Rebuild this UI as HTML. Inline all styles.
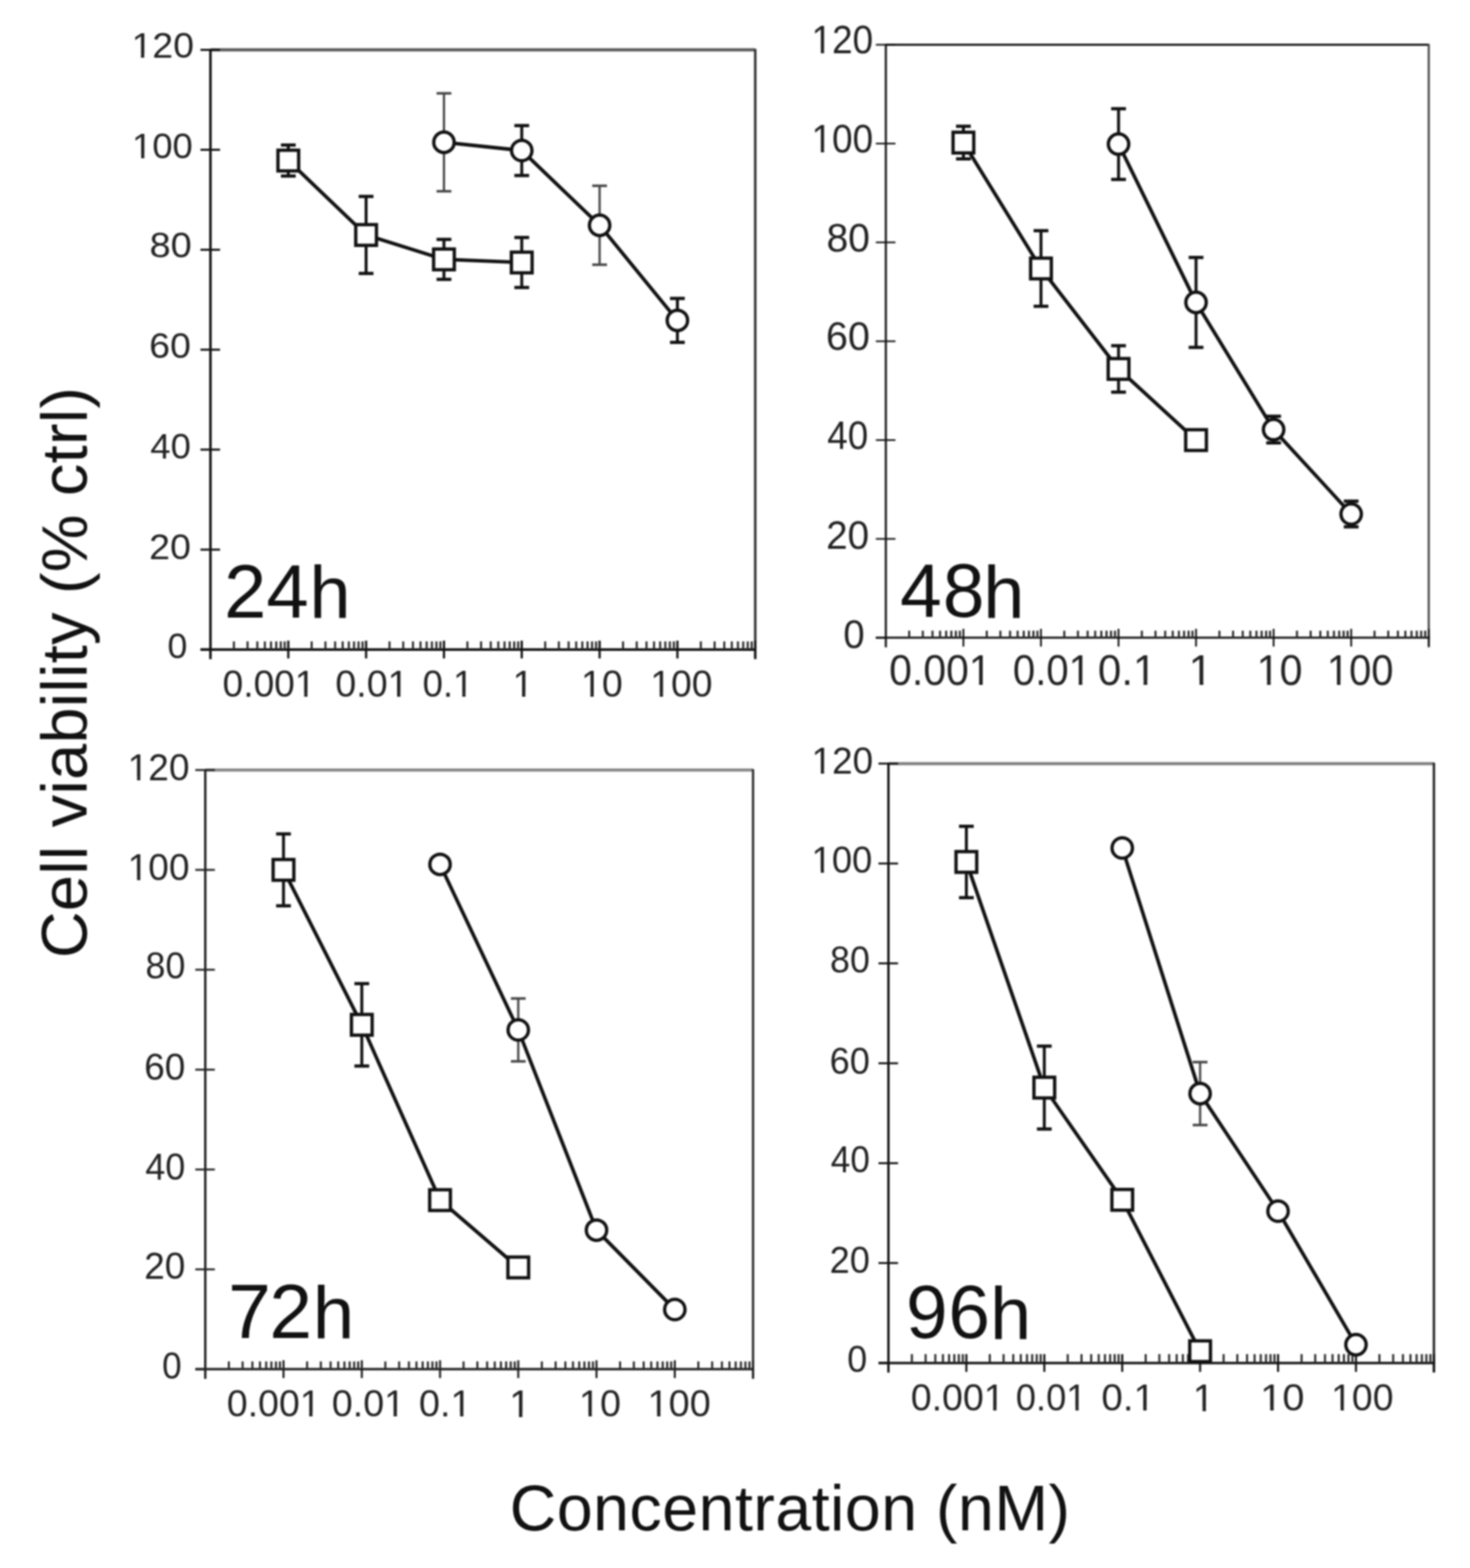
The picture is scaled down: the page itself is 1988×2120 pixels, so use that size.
<!DOCTYPE html>
<html><head><meta charset="utf-8"><title>Cell viability vs concentration</title>
<style>html,body{margin:0;padding:0;background:#fff;}body{width:1988px;height:2120px;overflow:hidden;}svg{display:block;filter:blur(0.8px);}</style>
</head><body>
<svg width="1988" height="2120" viewBox="0 0 1988 2120" font-family='"Liberation Sans", Arial, sans-serif'><defs><clipPath id="c0" clipPathUnits="userSpaceOnUse"><rect x="0.00" y="-97.95" width="27.24" height="93.29"/><rect x="12.32" y="-5.66" width="4.33" height="35.04"/><rect x="27.24" y="-97.95" width="27.24" height="146.92"/><rect x="54.47" y="-97.95" width="27.24" height="146.92"/></clipPath><clipPath id="c1" clipPathUnits="userSpaceOnUse"><rect x="0.00" y="-97.95" width="27.24" height="93.29"/><rect x="12.32" y="-5.66" width="4.33" height="35.04"/><rect x="27.24" y="-97.95" width="27.24" height="146.92"/><rect x="54.47" y="-97.95" width="27.24" height="146.92"/></clipPath><clipPath id="c2" clipPathUnits="userSpaceOnUse"><rect x="0.00" y="-98.87" width="27.49" height="148.31"/><rect x="27.49" y="-98.87" width="13.74" height="148.31"/><rect x="41.23" y="-98.87" width="27.49" height="148.31"/><rect x="68.72" y="-98.87" width="27.49" height="148.31"/><rect x="96.22" y="-98.87" width="27.49" height="94.18"/><rect x="108.65" y="-5.69" width="4.37" height="35.36"/></clipPath><clipPath id="c3" clipPathUnits="userSpaceOnUse"><rect x="0.00" y="-98.87" width="27.49" height="148.31"/><rect x="27.49" y="-98.87" width="13.74" height="148.31"/><rect x="41.23" y="-98.87" width="27.49" height="148.31"/><rect x="68.72" y="-98.87" width="27.49" height="94.18"/><rect x="81.16" y="-5.69" width="4.37" height="35.36"/></clipPath><clipPath id="c4" clipPathUnits="userSpaceOnUse"><rect x="0.00" y="-98.87" width="27.49" height="148.31"/><rect x="27.49" y="-98.87" width="13.74" height="148.31"/><rect x="41.23" y="-98.87" width="27.49" height="94.18"/><rect x="53.66" y="-5.69" width="4.37" height="35.36"/></clipPath><clipPath id="c5" clipPathUnits="userSpaceOnUse"><rect x="0.00" y="-101.74" width="28.29" height="96.92"/><rect x="12.79" y="-5.84" width="4.50" height="36.36"/></clipPath><clipPath id="c6" clipPathUnits="userSpaceOnUse"><rect x="0.00" y="-98.87" width="27.49" height="94.18"/><rect x="12.43" y="-5.69" width="4.37" height="35.36"/><rect x="27.49" y="-98.87" width="27.49" height="148.31"/></clipPath><clipPath id="c7" clipPathUnits="userSpaceOnUse"><rect x="0.00" y="-98.87" width="27.49" height="94.18"/><rect x="12.43" y="-5.69" width="4.37" height="35.36"/><rect x="27.49" y="-98.87" width="27.49" height="148.31"/><rect x="54.99" y="-98.87" width="27.49" height="148.31"/></clipPath><clipPath id="c8" clipPathUnits="userSpaceOnUse"><rect x="0.00" y="-105.51" width="29.34" height="100.52"/><rect x="13.27" y="-6.05" width="4.66" height="37.71"/><rect x="29.34" y="-105.51" width="29.34" height="158.27"/><rect x="58.68" y="-105.51" width="29.34" height="158.27"/></clipPath><clipPath id="c9" clipPathUnits="userSpaceOnUse"><rect x="0.00" y="-105.51" width="29.34" height="100.52"/><rect x="13.27" y="-6.05" width="4.66" height="37.71"/><rect x="29.34" y="-105.51" width="29.34" height="158.27"/><rect x="58.68" y="-105.51" width="29.34" height="158.27"/></clipPath><clipPath id="c10" clipPathUnits="userSpaceOnUse"><rect x="0.00" y="-113.24" width="31.49" height="169.86"/><rect x="31.49" y="-113.24" width="15.73" height="169.86"/><rect x="47.22" y="-113.24" width="31.49" height="169.86"/><rect x="78.71" y="-113.24" width="31.49" height="169.86"/><rect x="110.20" y="-113.24" width="31.49" height="107.88"/><rect x="124.44" y="-6.49" width="5.00" height="40.47"/></clipPath><clipPath id="c11" clipPathUnits="userSpaceOnUse"><rect x="0.00" y="-113.24" width="31.49" height="169.86"/><rect x="31.49" y="-113.24" width="15.73" height="169.86"/><rect x="47.22" y="-113.24" width="31.49" height="169.86"/><rect x="78.71" y="-113.24" width="31.49" height="107.88"/><rect x="92.95" y="-6.49" width="5.00" height="40.47"/></clipPath><clipPath id="c12" clipPathUnits="userSpaceOnUse"><rect x="0.00" y="-113.24" width="31.49" height="169.86"/><rect x="31.49" y="-113.24" width="15.73" height="169.86"/><rect x="47.22" y="-113.24" width="31.49" height="107.88"/><rect x="61.46" y="-6.49" width="5.00" height="40.47"/></clipPath><clipPath id="c13" clipPathUnits="userSpaceOnUse"><rect x="0.00" y="-116.52" width="32.40" height="111.00"/><rect x="14.65" y="-6.68" width="5.15" height="41.64"/></clipPath><clipPath id="c14" clipPathUnits="userSpaceOnUse"><rect x="0.00" y="-113.24" width="31.49" height="107.88"/><rect x="14.24" y="-6.49" width="5.00" height="40.47"/><rect x="31.49" y="-113.24" width="31.49" height="169.86"/></clipPath><clipPath id="c15" clipPathUnits="userSpaceOnUse"><rect x="0.00" y="-113.24" width="31.49" height="107.88"/><rect x="14.24" y="-6.49" width="5.00" height="40.47"/><rect x="31.49" y="-113.24" width="31.49" height="169.86"/><rect x="62.98" y="-113.24" width="31.49" height="169.86"/></clipPath><clipPath id="c16" clipPathUnits="userSpaceOnUse"><rect x="0.00" y="-98.31" width="27.34" height="93.64"/><rect x="12.36" y="-5.67" width="4.34" height="35.17"/><rect x="27.34" y="-98.31" width="27.34" height="147.46"/><rect x="54.68" y="-98.31" width="27.34" height="147.46"/></clipPath><clipPath id="c17" clipPathUnits="userSpaceOnUse"><rect x="0.00" y="-98.31" width="27.34" height="93.64"/><rect x="12.36" y="-5.67" width="4.34" height="35.17"/><rect x="27.34" y="-98.31" width="27.34" height="147.46"/><rect x="54.68" y="-98.31" width="27.34" height="147.46"/></clipPath><clipPath id="c18" clipPathUnits="userSpaceOnUse"><rect x="0.00" y="-101.69" width="28.28" height="152.54"/><rect x="28.28" y="-101.69" width="14.13" height="152.54"/><rect x="42.40" y="-101.69" width="28.28" height="152.54"/><rect x="70.68" y="-101.69" width="28.28" height="152.54"/><rect x="98.96" y="-101.69" width="28.28" height="96.87"/><rect x="111.74" y="-5.83" width="4.49" height="36.34"/></clipPath><clipPath id="c19" clipPathUnits="userSpaceOnUse"><rect x="0.00" y="-101.69" width="28.28" height="152.54"/><rect x="28.28" y="-101.69" width="14.13" height="152.54"/><rect x="42.40" y="-101.69" width="28.28" height="152.54"/><rect x="70.68" y="-101.69" width="28.28" height="96.87"/><rect x="83.47" y="-5.83" width="4.49" height="36.34"/></clipPath><clipPath id="c20" clipPathUnits="userSpaceOnUse"><rect x="0.00" y="-101.69" width="28.28" height="152.54"/><rect x="28.28" y="-101.69" width="14.13" height="152.54"/><rect x="42.40" y="-101.69" width="28.28" height="96.87"/><rect x="55.19" y="-5.83" width="4.49" height="36.34"/></clipPath><clipPath id="c21" clipPathUnits="userSpaceOnUse"><rect x="0.00" y="-104.64" width="29.10" height="99.68"/><rect x="13.16" y="-6.00" width="4.62" height="37.39"/></clipPath><clipPath id="c22" clipPathUnits="userSpaceOnUse"><rect x="0.00" y="-101.69" width="28.28" height="96.87"/><rect x="12.79" y="-5.83" width="4.49" height="36.34"/><rect x="28.28" y="-101.69" width="28.28" height="152.54"/></clipPath><clipPath id="c23" clipPathUnits="userSpaceOnUse"><rect x="0.00" y="-101.69" width="28.28" height="96.87"/><rect x="12.79" y="-5.83" width="4.49" height="36.34"/><rect x="28.28" y="-101.69" width="28.28" height="152.54"/><rect x="56.56" y="-101.69" width="28.28" height="152.54"/></clipPath><clipPath id="c24" clipPathUnits="userSpaceOnUse"><rect x="0.00" y="-98.59" width="27.42" height="93.91"/><rect x="12.40" y="-5.68" width="4.36" height="35.26"/><rect x="27.42" y="-98.59" width="27.42" height="147.89"/><rect x="54.83" y="-98.59" width="27.42" height="147.89"/></clipPath><clipPath id="c25" clipPathUnits="userSpaceOnUse"><rect x="0.00" y="-98.59" width="27.42" height="93.91"/><rect x="12.40" y="-5.68" width="4.36" height="35.26"/><rect x="27.42" y="-98.59" width="27.42" height="147.89"/><rect x="54.83" y="-98.59" width="27.42" height="147.89"/></clipPath><clipPath id="c26" clipPathUnits="userSpaceOnUse"><rect x="0.00" y="-100.56" width="27.96" height="150.85"/><rect x="27.96" y="-100.56" width="13.97" height="150.85"/><rect x="41.93" y="-100.56" width="27.96" height="150.85"/><rect x="69.90" y="-100.56" width="27.96" height="150.85"/><rect x="97.86" y="-100.56" width="27.96" height="95.80"/><rect x="110.51" y="-5.77" width="4.44" height="35.94"/></clipPath><clipPath id="c27" clipPathUnits="userSpaceOnUse"><rect x="0.00" y="-100.56" width="27.96" height="150.85"/><rect x="27.96" y="-100.56" width="13.97" height="150.85"/><rect x="41.93" y="-100.56" width="27.96" height="150.85"/><rect x="69.90" y="-100.56" width="27.96" height="95.80"/><rect x="82.54" y="-5.77" width="4.44" height="35.94"/></clipPath><clipPath id="c28" clipPathUnits="userSpaceOnUse"><rect x="0.00" y="-100.56" width="27.96" height="150.85"/><rect x="27.96" y="-100.56" width="13.97" height="150.85"/><rect x="41.93" y="-100.56" width="27.96" height="95.80"/><rect x="54.58" y="-5.77" width="4.44" height="35.94"/></clipPath><clipPath id="c29" clipPathUnits="userSpaceOnUse"><rect x="0.00" y="-103.48" width="28.77" height="98.58"/><rect x="13.01" y="-5.93" width="4.57" height="36.98"/></clipPath><clipPath id="c30" clipPathUnits="userSpaceOnUse"><rect x="0.00" y="-100.56" width="27.96" height="95.80"/><rect x="12.64" y="-5.77" width="4.44" height="35.94"/><rect x="27.96" y="-100.56" width="27.96" height="150.85"/></clipPath><clipPath id="c31" clipPathUnits="userSpaceOnUse"><rect x="0.00" y="-100.56" width="27.96" height="95.80"/><rect x="12.64" y="-5.77" width="4.44" height="35.94"/><rect x="27.96" y="-100.56" width="27.96" height="150.85"/><rect x="55.93" y="-100.56" width="27.96" height="150.85"/></clipPath></defs>
<line x1="284.6" y1="67.4" x2="1021.4" y2="67.4" stroke="#5a5a5a" stroke-width="4.2"/>
<line x1="1021.4" y1="66.2" x2="1021.4" y2="891.2" stroke="#333" stroke-width="3.4"/>
<line x1="284.6" y1="66.4" x2="284.6" y2="891.2" stroke="#111" stroke-width="3.4"/>
<line x1="271.1" y1="878.2" x2="1022.9" y2="878.2" stroke="#111" stroke-width="3.4"/>
<line x1="271.1" y1="878.2" x2="284.6" y2="878.2" stroke="#111" stroke-width="2.8"/>
<line x1="271.1" y1="743.1" x2="297.6" y2="743.1" stroke="#111" stroke-width="2.8"/>
<line x1="271.1" y1="607.9" x2="297.6" y2="607.9" stroke="#111" stroke-width="2.8"/>
<line x1="271.1" y1="472.8" x2="297.6" y2="472.8" stroke="#111" stroke-width="2.8"/>
<line x1="271.1" y1="337.7" x2="297.6" y2="337.7" stroke="#111" stroke-width="2.8"/>
<line x1="271.1" y1="202.5" x2="297.6" y2="202.5" stroke="#111" stroke-width="2.8"/>
<line x1="271.1" y1="67.4" x2="297.6" y2="67.4" stroke="#111" stroke-width="2.8"/>
<line x1="316.3" y1="867.2" x2="316.3" y2="878.2" stroke="#2a2a2a" stroke-width="2.8"/>
<line x1="334.8" y1="867.2" x2="334.8" y2="878.2" stroke="#2a2a2a" stroke-width="2.8"/>
<line x1="348.0" y1="867.2" x2="348.0" y2="878.2" stroke="#2a2a2a" stroke-width="2.8"/>
<line x1="358.2" y1="867.2" x2="358.2" y2="878.2" stroke="#2a2a2a" stroke-width="2.8"/>
<line x1="366.5" y1="867.2" x2="366.5" y2="878.2" stroke="#2a2a2a" stroke-width="2.8"/>
<line x1="373.6" y1="867.2" x2="373.6" y2="878.2" stroke="#2a2a2a" stroke-width="2.8"/>
<line x1="379.7" y1="867.2" x2="379.7" y2="878.2" stroke="#2a2a2a" stroke-width="2.8"/>
<line x1="385.0" y1="867.2" x2="385.0" y2="878.2" stroke="#2a2a2a" stroke-width="2.8"/>
<line x1="389.9" y1="866.2" x2="389.9" y2="890.2" stroke="#111" stroke-width="3.0"/>
<line x1="421.5" y1="867.2" x2="421.5" y2="878.2" stroke="#2a2a2a" stroke-width="2.8"/>
<line x1="440.1" y1="867.2" x2="440.1" y2="878.2" stroke="#2a2a2a" stroke-width="2.8"/>
<line x1="453.2" y1="867.2" x2="453.2" y2="878.2" stroke="#2a2a2a" stroke-width="2.8"/>
<line x1="463.4" y1="867.2" x2="463.4" y2="878.2" stroke="#2a2a2a" stroke-width="2.8"/>
<line x1="471.8" y1="867.2" x2="471.8" y2="878.2" stroke="#2a2a2a" stroke-width="2.8"/>
<line x1="478.8" y1="867.2" x2="478.8" y2="878.2" stroke="#2a2a2a" stroke-width="2.8"/>
<line x1="484.9" y1="867.2" x2="484.9" y2="878.2" stroke="#2a2a2a" stroke-width="2.8"/>
<line x1="490.3" y1="867.2" x2="490.3" y2="878.2" stroke="#2a2a2a" stroke-width="2.8"/>
<line x1="495.1" y1="866.2" x2="495.1" y2="890.2" stroke="#111" stroke-width="3.0"/>
<line x1="526.8" y1="867.2" x2="526.8" y2="878.2" stroke="#2a2a2a" stroke-width="2.8"/>
<line x1="545.3" y1="867.2" x2="545.3" y2="878.2" stroke="#2a2a2a" stroke-width="2.8"/>
<line x1="558.5" y1="867.2" x2="558.5" y2="878.2" stroke="#2a2a2a" stroke-width="2.8"/>
<line x1="568.7" y1="867.2" x2="568.7" y2="878.2" stroke="#2a2a2a" stroke-width="2.8"/>
<line x1="577.0" y1="867.2" x2="577.0" y2="878.2" stroke="#2a2a2a" stroke-width="2.8"/>
<line x1="584.1" y1="867.2" x2="584.1" y2="878.2" stroke="#2a2a2a" stroke-width="2.8"/>
<line x1="590.2" y1="867.2" x2="590.2" y2="878.2" stroke="#2a2a2a" stroke-width="2.8"/>
<line x1="595.6" y1="867.2" x2="595.6" y2="878.2" stroke="#2a2a2a" stroke-width="2.8"/>
<line x1="600.4" y1="866.2" x2="600.4" y2="890.2" stroke="#111" stroke-width="3.0"/>
<line x1="632.1" y1="867.2" x2="632.1" y2="878.2" stroke="#2a2a2a" stroke-width="2.8"/>
<line x1="650.6" y1="867.2" x2="650.6" y2="878.2" stroke="#2a2a2a" stroke-width="2.8"/>
<line x1="663.7" y1="867.2" x2="663.7" y2="878.2" stroke="#2a2a2a" stroke-width="2.8"/>
<line x1="673.9" y1="867.2" x2="673.9" y2="878.2" stroke="#2a2a2a" stroke-width="2.8"/>
<line x1="682.3" y1="867.2" x2="682.3" y2="878.2" stroke="#2a2a2a" stroke-width="2.8"/>
<line x1="689.3" y1="867.2" x2="689.3" y2="878.2" stroke="#2a2a2a" stroke-width="2.8"/>
<line x1="695.4" y1="867.2" x2="695.4" y2="878.2" stroke="#2a2a2a" stroke-width="2.8"/>
<line x1="700.8" y1="867.2" x2="700.8" y2="878.2" stroke="#2a2a2a" stroke-width="2.8"/>
<line x1="705.6" y1="866.2" x2="705.6" y2="890.2" stroke="#111" stroke-width="3.0"/>
<line x1="737.3" y1="867.2" x2="737.3" y2="878.2" stroke="#2a2a2a" stroke-width="2.8"/>
<line x1="755.8" y1="867.2" x2="755.8" y2="878.2" stroke="#2a2a2a" stroke-width="2.8"/>
<line x1="769.0" y1="867.2" x2="769.0" y2="878.2" stroke="#2a2a2a" stroke-width="2.8"/>
<line x1="779.2" y1="867.2" x2="779.2" y2="878.2" stroke="#2a2a2a" stroke-width="2.8"/>
<line x1="787.5" y1="867.2" x2="787.5" y2="878.2" stroke="#2a2a2a" stroke-width="2.8"/>
<line x1="794.6" y1="867.2" x2="794.6" y2="878.2" stroke="#2a2a2a" stroke-width="2.8"/>
<line x1="800.7" y1="867.2" x2="800.7" y2="878.2" stroke="#2a2a2a" stroke-width="2.8"/>
<line x1="806.1" y1="867.2" x2="806.1" y2="878.2" stroke="#2a2a2a" stroke-width="2.8"/>
<line x1="810.9" y1="866.2" x2="810.9" y2="890.2" stroke="#111" stroke-width="3.0"/>
<line x1="842.6" y1="867.2" x2="842.6" y2="878.2" stroke="#2a2a2a" stroke-width="2.8"/>
<line x1="861.1" y1="867.2" x2="861.1" y2="878.2" stroke="#2a2a2a" stroke-width="2.8"/>
<line x1="874.3" y1="867.2" x2="874.3" y2="878.2" stroke="#2a2a2a" stroke-width="2.8"/>
<line x1="884.5" y1="867.2" x2="884.5" y2="878.2" stroke="#2a2a2a" stroke-width="2.8"/>
<line x1="892.8" y1="867.2" x2="892.8" y2="878.2" stroke="#2a2a2a" stroke-width="2.8"/>
<line x1="899.8" y1="867.2" x2="899.8" y2="878.2" stroke="#2a2a2a" stroke-width="2.8"/>
<line x1="905.9" y1="867.2" x2="905.9" y2="878.2" stroke="#2a2a2a" stroke-width="2.8"/>
<line x1="911.3" y1="867.2" x2="911.3" y2="878.2" stroke="#2a2a2a" stroke-width="2.8"/>
<line x1="916.1" y1="866.2" x2="916.1" y2="890.2" stroke="#111" stroke-width="3.0"/>
<line x1="947.8" y1="867.2" x2="947.8" y2="878.2" stroke="#2a2a2a" stroke-width="2.8"/>
<line x1="966.4" y1="867.2" x2="966.4" y2="878.2" stroke="#2a2a2a" stroke-width="2.8"/>
<line x1="979.5" y1="867.2" x2="979.5" y2="878.2" stroke="#2a2a2a" stroke-width="2.8"/>
<line x1="989.7" y1="867.2" x2="989.7" y2="878.2" stroke="#2a2a2a" stroke-width="2.8"/>
<line x1="998.0" y1="867.2" x2="998.0" y2="878.2" stroke="#2a2a2a" stroke-width="2.8"/>
<line x1="1005.1" y1="867.2" x2="1005.1" y2="878.2" stroke="#2a2a2a" stroke-width="2.8"/>
<line x1="1011.2" y1="867.2" x2="1011.2" y2="878.2" stroke="#2a2a2a" stroke-width="2.8"/>
<line x1="1016.6" y1="867.2" x2="1016.6" y2="878.2" stroke="#2a2a2a" stroke-width="2.8"/>
<line x1="1021.4" y1="866.2" x2="1021.4" y2="890.2" stroke="#111" stroke-width="3.0"/>
<line x1="389.9" y1="196.1" x2="389.9" y2="238.0" stroke="#111" stroke-width="4.0"/>
<line x1="379.9" y1="196.1" x2="399.9" y2="196.1" stroke="#111" stroke-width="4.4"/>
<line x1="379.9" y1="238.0" x2="399.9" y2="238.0" stroke="#111" stroke-width="4.4"/>
<line x1="495.1" y1="265.6" x2="495.1" y2="369.7" stroke="#111" stroke-width="4.0"/>
<line x1="485.1" y1="265.6" x2="505.1" y2="265.6" stroke="#111" stroke-width="4.4"/>
<line x1="485.1" y1="369.7" x2="505.1" y2="369.7" stroke="#111" stroke-width="4.4"/>
<line x1="600.4" y1="323.7" x2="600.4" y2="377.7" stroke="#111" stroke-width="4.0"/>
<line x1="590.4" y1="323.7" x2="610.4" y2="323.7" stroke="#111" stroke-width="4.4"/>
<line x1="590.4" y1="377.7" x2="610.4" y2="377.7" stroke="#111" stroke-width="4.4"/>
<line x1="705.6" y1="321.1" x2="705.6" y2="388.7" stroke="#111" stroke-width="4.0"/>
<line x1="695.6" y1="321.1" x2="715.6" y2="321.1" stroke="#111" stroke-width="4.4"/>
<line x1="695.6" y1="388.7" x2="715.6" y2="388.7" stroke="#111" stroke-width="4.4"/>
<polyline points="389.9,217.1 495.1,317.7 600.4,350.7 705.6,354.9" fill="none" stroke="#111" stroke-width="4.8" stroke-linejoin="round"/>
<rect x="375.9" y="203.1" width="28" height="28" fill="#fff" stroke="#111" stroke-width="4.5"/>
<rect x="481.1" y="303.7" width="28" height="28" fill="#fff" stroke="#111" stroke-width="4.5"/>
<rect x="586.4" y="336.7" width="28" height="28" fill="#fff" stroke="#111" stroke-width="4.5"/>
<rect x="691.6" y="340.9" width="28" height="28" fill="#fff" stroke="#111" stroke-width="4.5"/>
<line x1="600.4" y1="126.2" x2="600.4" y2="258.6" stroke="#444" stroke-width="3.0"/>
<line x1="590.4" y1="126.2" x2="610.4" y2="126.2" stroke="#444" stroke-width="3.4"/>
<line x1="590.4" y1="258.6" x2="610.4" y2="258.6" stroke="#444" stroke-width="3.4"/>
<line x1="705.6" y1="169.8" x2="705.6" y2="237.3" stroke="#111" stroke-width="4.0"/>
<line x1="695.6" y1="169.8" x2="715.6" y2="169.8" stroke="#111" stroke-width="4.4"/>
<line x1="695.6" y1="237.3" x2="715.6" y2="237.3" stroke="#111" stroke-width="4.4"/>
<line x1="810.9" y1="251.2" x2="810.9" y2="357.9" stroke="#444" stroke-width="3.0"/>
<line x1="800.9" y1="251.2" x2="820.9" y2="251.2" stroke="#444" stroke-width="3.4"/>
<line x1="800.9" y1="357.9" x2="820.9" y2="357.9" stroke="#444" stroke-width="3.4"/>
<line x1="916.1" y1="403.5" x2="916.1" y2="462.9" stroke="#111" stroke-width="4.0"/>
<line x1="906.1" y1="403.5" x2="926.1" y2="403.5" stroke="#111" stroke-width="4.4"/>
<line x1="906.1" y1="462.9" x2="926.1" y2="462.9" stroke="#111" stroke-width="4.4"/>
<polyline points="600.4,192.4 705.6,203.5 810.9,304.6 916.1,433.2" fill="none" stroke="#111" stroke-width="4.8" stroke-linejoin="round"/>
<circle cx="600.4" cy="192.4" r="13.8" fill="#fff" stroke="#111" stroke-width="4.5"/>
<circle cx="705.6" cy="203.5" r="13.8" fill="#fff" stroke="#111" stroke-width="4.5"/>
<circle cx="810.9" cy="304.6" r="13.8" fill="#fff" stroke="#111" stroke-width="4.5"/>
<circle cx="916.1" cy="433.2" r="13.8" fill="#fff" stroke="#111" stroke-width="4.5"/>
<line x1="1198.0" y1="60.5" x2="1932.2" y2="60.5" stroke="#222" stroke-width="2.8"/>
<line x1="1932.2" y1="59.3" x2="1932.2" y2="875.2" stroke="#444" stroke-width="2.8"/>
<line x1="1198.0" y1="59.5" x2="1198.0" y2="875.2" stroke="#111" stroke-width="2.8"/>
<line x1="1184.5" y1="862.2" x2="1933.7" y2="862.2" stroke="#111" stroke-width="2.8"/>
<line x1="1184.5" y1="862.2" x2="1198.0" y2="862.2" stroke="#111" stroke-width="2.1999999999999997"/>
<line x1="1184.5" y1="728.6" x2="1211.0" y2="728.6" stroke="#111" stroke-width="2.1999999999999997"/>
<line x1="1184.5" y1="595.0" x2="1211.0" y2="595.0" stroke="#111" stroke-width="2.1999999999999997"/>
<line x1="1184.5" y1="461.4" x2="1211.0" y2="461.4" stroke="#111" stroke-width="2.1999999999999997"/>
<line x1="1184.5" y1="327.7" x2="1211.0" y2="327.7" stroke="#111" stroke-width="2.1999999999999997"/>
<line x1="1184.5" y1="194.1" x2="1211.0" y2="194.1" stroke="#111" stroke-width="2.1999999999999997"/>
<line x1="1184.5" y1="60.5" x2="1211.0" y2="60.5" stroke="#111" stroke-width="2.1999999999999997"/>
<line x1="1229.6" y1="852.7" x2="1229.6" y2="862.2" stroke="#2a2a2a" stroke-width="2.8"/>
<line x1="1248.0" y1="852.7" x2="1248.0" y2="862.2" stroke="#2a2a2a" stroke-width="2.8"/>
<line x1="1261.1" y1="852.7" x2="1261.1" y2="862.2" stroke="#2a2a2a" stroke-width="2.8"/>
<line x1="1271.3" y1="852.7" x2="1271.3" y2="862.2" stroke="#2a2a2a" stroke-width="2.8"/>
<line x1="1279.6" y1="852.7" x2="1279.6" y2="862.2" stroke="#2a2a2a" stroke-width="2.8"/>
<line x1="1286.6" y1="852.7" x2="1286.6" y2="862.2" stroke="#2a2a2a" stroke-width="2.8"/>
<line x1="1292.7" y1="852.7" x2="1292.7" y2="862.2" stroke="#2a2a2a" stroke-width="2.8"/>
<line x1="1298.1" y1="852.7" x2="1298.1" y2="862.2" stroke="#2a2a2a" stroke-width="2.8"/>
<line x1="1302.9" y1="850.2" x2="1302.9" y2="874.2" stroke="#111" stroke-width="2.4"/>
<line x1="1334.5" y1="852.7" x2="1334.5" y2="862.2" stroke="#2a2a2a" stroke-width="2.8"/>
<line x1="1352.9" y1="852.7" x2="1352.9" y2="862.2" stroke="#2a2a2a" stroke-width="2.8"/>
<line x1="1366.0" y1="852.7" x2="1366.0" y2="862.2" stroke="#2a2a2a" stroke-width="2.8"/>
<line x1="1376.2" y1="852.7" x2="1376.2" y2="862.2" stroke="#2a2a2a" stroke-width="2.8"/>
<line x1="1384.5" y1="852.7" x2="1384.5" y2="862.2" stroke="#2a2a2a" stroke-width="2.8"/>
<line x1="1391.5" y1="852.7" x2="1391.5" y2="862.2" stroke="#2a2a2a" stroke-width="2.8"/>
<line x1="1397.6" y1="852.7" x2="1397.6" y2="862.2" stroke="#2a2a2a" stroke-width="2.8"/>
<line x1="1403.0" y1="852.7" x2="1403.0" y2="862.2" stroke="#2a2a2a" stroke-width="2.8"/>
<line x1="1407.8" y1="850.2" x2="1407.8" y2="874.2" stroke="#111" stroke-width="2.4"/>
<line x1="1439.3" y1="852.7" x2="1439.3" y2="862.2" stroke="#2a2a2a" stroke-width="2.8"/>
<line x1="1457.8" y1="852.7" x2="1457.8" y2="862.2" stroke="#2a2a2a" stroke-width="2.8"/>
<line x1="1470.9" y1="852.7" x2="1470.9" y2="862.2" stroke="#2a2a2a" stroke-width="2.8"/>
<line x1="1481.1" y1="852.7" x2="1481.1" y2="862.2" stroke="#2a2a2a" stroke-width="2.8"/>
<line x1="1489.4" y1="852.7" x2="1489.4" y2="862.2" stroke="#2a2a2a" stroke-width="2.8"/>
<line x1="1496.4" y1="852.7" x2="1496.4" y2="862.2" stroke="#2a2a2a" stroke-width="2.8"/>
<line x1="1502.5" y1="852.7" x2="1502.5" y2="862.2" stroke="#2a2a2a" stroke-width="2.8"/>
<line x1="1507.9" y1="852.7" x2="1507.9" y2="862.2" stroke="#2a2a2a" stroke-width="2.8"/>
<line x1="1512.7" y1="850.2" x2="1512.7" y2="874.2" stroke="#111" stroke-width="2.4"/>
<line x1="1544.2" y1="852.7" x2="1544.2" y2="862.2" stroke="#2a2a2a" stroke-width="2.8"/>
<line x1="1562.7" y1="852.7" x2="1562.7" y2="862.2" stroke="#2a2a2a" stroke-width="2.8"/>
<line x1="1575.8" y1="852.7" x2="1575.8" y2="862.2" stroke="#2a2a2a" stroke-width="2.8"/>
<line x1="1586.0" y1="852.7" x2="1586.0" y2="862.2" stroke="#2a2a2a" stroke-width="2.8"/>
<line x1="1594.3" y1="852.7" x2="1594.3" y2="862.2" stroke="#2a2a2a" stroke-width="2.8"/>
<line x1="1601.3" y1="852.7" x2="1601.3" y2="862.2" stroke="#2a2a2a" stroke-width="2.8"/>
<line x1="1607.4" y1="852.7" x2="1607.4" y2="862.2" stroke="#2a2a2a" stroke-width="2.8"/>
<line x1="1612.7" y1="852.7" x2="1612.7" y2="862.2" stroke="#2a2a2a" stroke-width="2.8"/>
<line x1="1617.5" y1="850.2" x2="1617.5" y2="874.2" stroke="#111" stroke-width="2.4"/>
<line x1="1649.1" y1="852.7" x2="1649.1" y2="862.2" stroke="#2a2a2a" stroke-width="2.8"/>
<line x1="1667.6" y1="852.7" x2="1667.6" y2="862.2" stroke="#2a2a2a" stroke-width="2.8"/>
<line x1="1680.7" y1="852.7" x2="1680.7" y2="862.2" stroke="#2a2a2a" stroke-width="2.8"/>
<line x1="1690.9" y1="852.7" x2="1690.9" y2="862.2" stroke="#2a2a2a" stroke-width="2.8"/>
<line x1="1699.2" y1="852.7" x2="1699.2" y2="862.2" stroke="#2a2a2a" stroke-width="2.8"/>
<line x1="1706.2" y1="852.7" x2="1706.2" y2="862.2" stroke="#2a2a2a" stroke-width="2.8"/>
<line x1="1712.3" y1="852.7" x2="1712.3" y2="862.2" stroke="#2a2a2a" stroke-width="2.8"/>
<line x1="1717.6" y1="852.7" x2="1717.6" y2="862.2" stroke="#2a2a2a" stroke-width="2.8"/>
<line x1="1722.4" y1="850.2" x2="1722.4" y2="874.2" stroke="#111" stroke-width="2.4"/>
<line x1="1754.0" y1="852.7" x2="1754.0" y2="862.2" stroke="#2a2a2a" stroke-width="2.8"/>
<line x1="1772.5" y1="852.7" x2="1772.5" y2="862.2" stroke="#2a2a2a" stroke-width="2.8"/>
<line x1="1785.6" y1="852.7" x2="1785.6" y2="862.2" stroke="#2a2a2a" stroke-width="2.8"/>
<line x1="1795.7" y1="852.7" x2="1795.7" y2="862.2" stroke="#2a2a2a" stroke-width="2.8"/>
<line x1="1804.0" y1="852.7" x2="1804.0" y2="862.2" stroke="#2a2a2a" stroke-width="2.8"/>
<line x1="1811.1" y1="852.7" x2="1811.1" y2="862.2" stroke="#2a2a2a" stroke-width="2.8"/>
<line x1="1817.1" y1="852.7" x2="1817.1" y2="862.2" stroke="#2a2a2a" stroke-width="2.8"/>
<line x1="1822.5" y1="852.7" x2="1822.5" y2="862.2" stroke="#2a2a2a" stroke-width="2.8"/>
<line x1="1827.3" y1="850.2" x2="1827.3" y2="874.2" stroke="#111" stroke-width="2.4"/>
<line x1="1858.9" y1="852.7" x2="1858.9" y2="862.2" stroke="#2a2a2a" stroke-width="2.8"/>
<line x1="1877.4" y1="852.7" x2="1877.4" y2="862.2" stroke="#2a2a2a" stroke-width="2.8"/>
<line x1="1890.5" y1="852.7" x2="1890.5" y2="862.2" stroke="#2a2a2a" stroke-width="2.8"/>
<line x1="1900.6" y1="852.7" x2="1900.6" y2="862.2" stroke="#2a2a2a" stroke-width="2.8"/>
<line x1="1908.9" y1="852.7" x2="1908.9" y2="862.2" stroke="#2a2a2a" stroke-width="2.8"/>
<line x1="1916.0" y1="852.7" x2="1916.0" y2="862.2" stroke="#2a2a2a" stroke-width="2.8"/>
<line x1="1922.0" y1="852.7" x2="1922.0" y2="862.2" stroke="#2a2a2a" stroke-width="2.8"/>
<line x1="1927.4" y1="852.7" x2="1927.4" y2="862.2" stroke="#2a2a2a" stroke-width="2.8"/>
<line x1="1932.2" y1="850.2" x2="1932.2" y2="874.2" stroke="#111" stroke-width="2.4"/>
<line x1="1302.9" y1="170.7" x2="1302.9" y2="214.8" stroke="#111" stroke-width="4.0"/>
<line x1="1292.9" y1="170.7" x2="1312.9" y2="170.7" stroke="#111" stroke-width="4.4"/>
<line x1="1292.9" y1="214.8" x2="1312.9" y2="214.8" stroke="#111" stroke-width="4.4"/>
<line x1="1407.8" y1="311.9" x2="1407.8" y2="414.1" stroke="#111" stroke-width="4.0"/>
<line x1="1397.8" y1="311.9" x2="1417.8" y2="311.9" stroke="#111" stroke-width="4.4"/>
<line x1="1397.8" y1="414.1" x2="1417.8" y2="414.1" stroke="#111" stroke-width="4.4"/>
<line x1="1512.7" y1="467.4" x2="1512.7" y2="530.2" stroke="#111" stroke-width="4.0"/>
<line x1="1502.7" y1="467.4" x2="1522.7" y2="467.4" stroke="#111" stroke-width="4.4"/>
<line x1="1502.7" y1="530.2" x2="1522.7" y2="530.2" stroke="#111" stroke-width="4.4"/>
<polyline points="1302.9,192.8 1407.8,363.0 1512.7,498.8 1617.5,595.0" fill="none" stroke="#111" stroke-width="4.8" stroke-linejoin="round"/>
<rect x="1288.9" y="178.8" width="28" height="28" fill="#fff" stroke="#111" stroke-width="4.5"/>
<rect x="1393.8" y="349.0" width="28" height="28" fill="#fff" stroke="#111" stroke-width="4.5"/>
<rect x="1498.7" y="484.8" width="28" height="28" fill="#fff" stroke="#111" stroke-width="4.5"/>
<rect x="1603.5" y="581.0" width="28" height="28" fill="#fff" stroke="#111" stroke-width="4.5"/>
<line x1="1512.7" y1="147.0" x2="1512.7" y2="242.6" stroke="#111" stroke-width="4.0"/>
<line x1="1502.7" y1="147.0" x2="1522.7" y2="147.0" stroke="#111" stroke-width="4.4"/>
<line x1="1502.7" y1="242.6" x2="1522.7" y2="242.6" stroke="#111" stroke-width="4.4"/>
<line x1="1617.5" y1="348.1" x2="1617.5" y2="469.7" stroke="#111" stroke-width="4.0"/>
<line x1="1607.5" y1="348.1" x2="1627.5" y2="348.1" stroke="#111" stroke-width="4.4"/>
<line x1="1607.5" y1="469.7" x2="1627.5" y2="469.7" stroke="#111" stroke-width="4.4"/>
<line x1="1722.4" y1="562.8" x2="1722.4" y2="598.8" stroke="#111" stroke-width="4.0"/>
<line x1="1712.4" y1="562.8" x2="1732.4" y2="562.8" stroke="#111" stroke-width="4.4"/>
<line x1="1712.4" y1="598.8" x2="1732.4" y2="598.8" stroke="#111" stroke-width="4.4"/>
<line x1="1827.3" y1="677.6" x2="1827.3" y2="712.3" stroke="#111" stroke-width="4.0"/>
<line x1="1817.3" y1="677.6" x2="1837.3" y2="677.6" stroke="#111" stroke-width="4.4"/>
<line x1="1817.3" y1="712.3" x2="1837.3" y2="712.3" stroke="#111" stroke-width="4.4"/>
<polyline points="1512.7,194.8 1617.5,408.9 1722.4,580.8 1827.3,695.0" fill="none" stroke="#111" stroke-width="4.8" stroke-linejoin="round"/>
<circle cx="1512.7" cy="194.8" r="13.8" fill="#fff" stroke="#111" stroke-width="4.5"/>
<circle cx="1617.5" cy="408.9" r="13.8" fill="#fff" stroke="#111" stroke-width="4.5"/>
<circle cx="1722.4" cy="580.8" r="13.8" fill="#fff" stroke="#111" stroke-width="4.5"/>
<circle cx="1827.3" cy="695.0" r="13.8" fill="#fff" stroke="#111" stroke-width="4.5"/>
<line x1="277.6" y1="1041.1" x2="1018.4" y2="1041.1" stroke="#888" stroke-width="4.2"/>
<line x1="1018.4" y1="1039.9" x2="1018.4" y2="1864.2" stroke="#333" stroke-width="3.2"/>
<line x1="277.6" y1="1040.1" x2="277.6" y2="1864.2" stroke="#222" stroke-width="3.2"/>
<line x1="264.1" y1="1851.2" x2="1019.9" y2="1851.2" stroke="#222" stroke-width="3.2"/>
<line x1="264.1" y1="1851.2" x2="277.6" y2="1851.2" stroke="#222" stroke-width="2.6"/>
<line x1="264.1" y1="1716.2" x2="290.6" y2="1716.2" stroke="#222" stroke-width="2.6"/>
<line x1="264.1" y1="1581.2" x2="290.6" y2="1581.2" stroke="#222" stroke-width="2.6"/>
<line x1="264.1" y1="1446.2" x2="290.6" y2="1446.2" stroke="#222" stroke-width="2.6"/>
<line x1="264.1" y1="1311.1" x2="290.6" y2="1311.1" stroke="#222" stroke-width="2.6"/>
<line x1="264.1" y1="1176.1" x2="290.6" y2="1176.1" stroke="#222" stroke-width="2.6"/>
<line x1="264.1" y1="1041.1" x2="290.6" y2="1041.1" stroke="#222" stroke-width="2.6"/>
<line x1="309.5" y1="1840.7" x2="309.5" y2="1851.2" stroke="#2a2a2a" stroke-width="2.8"/>
<line x1="328.1" y1="1840.7" x2="328.1" y2="1851.2" stroke="#2a2a2a" stroke-width="2.8"/>
<line x1="341.3" y1="1840.7" x2="341.3" y2="1851.2" stroke="#2a2a2a" stroke-width="2.8"/>
<line x1="351.6" y1="1840.7" x2="351.6" y2="1851.2" stroke="#2a2a2a" stroke-width="2.8"/>
<line x1="360.0" y1="1840.7" x2="360.0" y2="1851.2" stroke="#2a2a2a" stroke-width="2.8"/>
<line x1="367.0" y1="1840.7" x2="367.0" y2="1851.2" stroke="#2a2a2a" stroke-width="2.8"/>
<line x1="373.2" y1="1840.7" x2="373.2" y2="1851.2" stroke="#2a2a2a" stroke-width="2.8"/>
<line x1="378.6" y1="1840.7" x2="378.6" y2="1851.2" stroke="#2a2a2a" stroke-width="2.8"/>
<line x1="383.4" y1="1839.2" x2="383.4" y2="1863.2" stroke="#222" stroke-width="2.8000000000000003"/>
<line x1="415.3" y1="1840.7" x2="415.3" y2="1851.2" stroke="#2a2a2a" stroke-width="2.8"/>
<line x1="433.9" y1="1840.7" x2="433.9" y2="1851.2" stroke="#2a2a2a" stroke-width="2.8"/>
<line x1="447.1" y1="1840.7" x2="447.1" y2="1851.2" stroke="#2a2a2a" stroke-width="2.8"/>
<line x1="457.4" y1="1840.7" x2="457.4" y2="1851.2" stroke="#2a2a2a" stroke-width="2.8"/>
<line x1="465.8" y1="1840.7" x2="465.8" y2="1851.2" stroke="#2a2a2a" stroke-width="2.8"/>
<line x1="472.9" y1="1840.7" x2="472.9" y2="1851.2" stroke="#2a2a2a" stroke-width="2.8"/>
<line x1="479.0" y1="1840.7" x2="479.0" y2="1851.2" stroke="#2a2a2a" stroke-width="2.8"/>
<line x1="484.4" y1="1840.7" x2="484.4" y2="1851.2" stroke="#2a2a2a" stroke-width="2.8"/>
<line x1="489.3" y1="1839.2" x2="489.3" y2="1863.2" stroke="#222" stroke-width="2.8000000000000003"/>
<line x1="521.1" y1="1840.7" x2="521.1" y2="1851.2" stroke="#2a2a2a" stroke-width="2.8"/>
<line x1="539.8" y1="1840.7" x2="539.8" y2="1851.2" stroke="#2a2a2a" stroke-width="2.8"/>
<line x1="553.0" y1="1840.7" x2="553.0" y2="1851.2" stroke="#2a2a2a" stroke-width="2.8"/>
<line x1="563.2" y1="1840.7" x2="563.2" y2="1851.2" stroke="#2a2a2a" stroke-width="2.8"/>
<line x1="571.6" y1="1840.7" x2="571.6" y2="1851.2" stroke="#2a2a2a" stroke-width="2.8"/>
<line x1="578.7" y1="1840.7" x2="578.7" y2="1851.2" stroke="#2a2a2a" stroke-width="2.8"/>
<line x1="584.8" y1="1840.7" x2="584.8" y2="1851.2" stroke="#2a2a2a" stroke-width="2.8"/>
<line x1="590.2" y1="1840.7" x2="590.2" y2="1851.2" stroke="#2a2a2a" stroke-width="2.8"/>
<line x1="595.1" y1="1839.2" x2="595.1" y2="1863.2" stroke="#222" stroke-width="2.8000000000000003"/>
<line x1="626.9" y1="1840.7" x2="626.9" y2="1851.2" stroke="#2a2a2a" stroke-width="2.8"/>
<line x1="645.6" y1="1840.7" x2="645.6" y2="1851.2" stroke="#2a2a2a" stroke-width="2.8"/>
<line x1="658.8" y1="1840.7" x2="658.8" y2="1851.2" stroke="#2a2a2a" stroke-width="2.8"/>
<line x1="669.1" y1="1840.7" x2="669.1" y2="1851.2" stroke="#2a2a2a" stroke-width="2.8"/>
<line x1="677.4" y1="1840.7" x2="677.4" y2="1851.2" stroke="#2a2a2a" stroke-width="2.8"/>
<line x1="684.5" y1="1840.7" x2="684.5" y2="1851.2" stroke="#2a2a2a" stroke-width="2.8"/>
<line x1="690.7" y1="1840.7" x2="690.7" y2="1851.2" stroke="#2a2a2a" stroke-width="2.8"/>
<line x1="696.1" y1="1840.7" x2="696.1" y2="1851.2" stroke="#2a2a2a" stroke-width="2.8"/>
<line x1="700.9" y1="1839.2" x2="700.9" y2="1863.2" stroke="#222" stroke-width="2.8000000000000003"/>
<line x1="732.8" y1="1840.7" x2="732.8" y2="1851.2" stroke="#2a2a2a" stroke-width="2.8"/>
<line x1="751.4" y1="1840.7" x2="751.4" y2="1851.2" stroke="#2a2a2a" stroke-width="2.8"/>
<line x1="764.6" y1="1840.7" x2="764.6" y2="1851.2" stroke="#2a2a2a" stroke-width="2.8"/>
<line x1="774.9" y1="1840.7" x2="774.9" y2="1851.2" stroke="#2a2a2a" stroke-width="2.8"/>
<line x1="783.3" y1="1840.7" x2="783.3" y2="1851.2" stroke="#2a2a2a" stroke-width="2.8"/>
<line x1="790.3" y1="1840.7" x2="790.3" y2="1851.2" stroke="#2a2a2a" stroke-width="2.8"/>
<line x1="796.5" y1="1840.7" x2="796.5" y2="1851.2" stroke="#2a2a2a" stroke-width="2.8"/>
<line x1="801.9" y1="1840.7" x2="801.9" y2="1851.2" stroke="#2a2a2a" stroke-width="2.8"/>
<line x1="806.7" y1="1839.2" x2="806.7" y2="1863.2" stroke="#222" stroke-width="2.8000000000000003"/>
<line x1="838.6" y1="1840.7" x2="838.6" y2="1851.2" stroke="#2a2a2a" stroke-width="2.8"/>
<line x1="857.2" y1="1840.7" x2="857.2" y2="1851.2" stroke="#2a2a2a" stroke-width="2.8"/>
<line x1="870.5" y1="1840.7" x2="870.5" y2="1851.2" stroke="#2a2a2a" stroke-width="2.8"/>
<line x1="880.7" y1="1840.7" x2="880.7" y2="1851.2" stroke="#2a2a2a" stroke-width="2.8"/>
<line x1="889.1" y1="1840.7" x2="889.1" y2="1851.2" stroke="#2a2a2a" stroke-width="2.8"/>
<line x1="896.2" y1="1840.7" x2="896.2" y2="1851.2" stroke="#2a2a2a" stroke-width="2.8"/>
<line x1="902.3" y1="1840.7" x2="902.3" y2="1851.2" stroke="#2a2a2a" stroke-width="2.8"/>
<line x1="907.7" y1="1840.7" x2="907.7" y2="1851.2" stroke="#2a2a2a" stroke-width="2.8"/>
<line x1="912.6" y1="1839.2" x2="912.6" y2="1863.2" stroke="#222" stroke-width="2.8000000000000003"/>
<line x1="944.4" y1="1840.7" x2="944.4" y2="1851.2" stroke="#2a2a2a" stroke-width="2.8"/>
<line x1="963.1" y1="1840.7" x2="963.1" y2="1851.2" stroke="#2a2a2a" stroke-width="2.8"/>
<line x1="976.3" y1="1840.7" x2="976.3" y2="1851.2" stroke="#2a2a2a" stroke-width="2.8"/>
<line x1="986.5" y1="1840.7" x2="986.5" y2="1851.2" stroke="#2a2a2a" stroke-width="2.8"/>
<line x1="994.9" y1="1840.7" x2="994.9" y2="1851.2" stroke="#2a2a2a" stroke-width="2.8"/>
<line x1="1002.0" y1="1840.7" x2="1002.0" y2="1851.2" stroke="#2a2a2a" stroke-width="2.8"/>
<line x1="1008.1" y1="1840.7" x2="1008.1" y2="1851.2" stroke="#2a2a2a" stroke-width="2.8"/>
<line x1="1013.6" y1="1840.7" x2="1013.6" y2="1851.2" stroke="#2a2a2a" stroke-width="2.8"/>
<line x1="1018.4" y1="1839.2" x2="1018.4" y2="1863.2" stroke="#222" stroke-width="2.8000000000000003"/>
<line x1="383.4" y1="1127.5" x2="383.4" y2="1224.7" stroke="#111" stroke-width="4.0"/>
<line x1="373.4" y1="1127.5" x2="393.4" y2="1127.5" stroke="#111" stroke-width="4.4"/>
<line x1="373.4" y1="1224.7" x2="393.4" y2="1224.7" stroke="#111" stroke-width="4.4"/>
<line x1="489.3" y1="1329.9" x2="489.3" y2="1441.3" stroke="#111" stroke-width="4.0"/>
<line x1="479.3" y1="1329.9" x2="499.3" y2="1329.9" stroke="#111" stroke-width="4.4"/>
<line x1="479.3" y1="1441.3" x2="499.3" y2="1441.3" stroke="#111" stroke-width="4.4"/>
<polyline points="383.4,1176.1 489.3,1385.6 595.1,1622.6 700.9,1713.6" fill="none" stroke="#111" stroke-width="4.8" stroke-linejoin="round"/>
<rect x="369.4" y="1162.1" width="28" height="28" fill="#fff" stroke="#111" stroke-width="4.5"/>
<rect x="475.3" y="1371.6" width="28" height="28" fill="#fff" stroke="#111" stroke-width="4.5"/>
<rect x="581.1" y="1608.6" width="28" height="28" fill="#fff" stroke="#111" stroke-width="4.5"/>
<rect x="686.9" y="1699.6" width="28" height="28" fill="#fff" stroke="#111" stroke-width="4.5"/>
<line x1="700.9" y1="1350.0" x2="700.9" y2="1435.0" stroke="#444" stroke-width="3.0"/>
<line x1="690.9" y1="1350.0" x2="710.9" y2="1350.0" stroke="#444" stroke-width="3.4"/>
<line x1="690.9" y1="1435.0" x2="710.9" y2="1435.0" stroke="#444" stroke-width="3.4"/>
<polyline points="595.1,1168.7 700.9,1392.5 806.7,1663.2 912.6,1770.5" fill="none" stroke="#111" stroke-width="4.8" stroke-linejoin="round"/>
<circle cx="595.1" cy="1168.7" r="13.8" fill="#fff" stroke="#111" stroke-width="4.5"/>
<circle cx="700.9" cy="1392.5" r="13.8" fill="#fff" stroke="#111" stroke-width="4.5"/>
<circle cx="806.7" cy="1663.2" r="13.8" fill="#fff" stroke="#111" stroke-width="4.5"/>
<circle cx="912.6" cy="1770.5" r="13.8" fill="#fff" stroke="#111" stroke-width="4.5"/>
<line x1="1201.5" y1="1032.4" x2="1939.2" y2="1032.4" stroke="#7a7a7a" stroke-width="4.0"/>
<line x1="1939.2" y1="1031.2" x2="1939.2" y2="1855.8" stroke="#222" stroke-width="3.2"/>
<line x1="1201.5" y1="1031.4" x2="1201.5" y2="1855.8" stroke="#111" stroke-width="3.2"/>
<line x1="1188.0" y1="1842.8" x2="1940.7" y2="1842.8" stroke="#111" stroke-width="3.2"/>
<line x1="1188.0" y1="1842.8" x2="1201.5" y2="1842.8" stroke="#111" stroke-width="2.6"/>
<line x1="1188.0" y1="1707.7" x2="1214.5" y2="1707.7" stroke="#111" stroke-width="2.6"/>
<line x1="1188.0" y1="1572.7" x2="1214.5" y2="1572.7" stroke="#111" stroke-width="2.6"/>
<line x1="1188.0" y1="1437.6" x2="1214.5" y2="1437.6" stroke="#111" stroke-width="2.6"/>
<line x1="1188.0" y1="1302.5" x2="1214.5" y2="1302.5" stroke="#111" stroke-width="2.6"/>
<line x1="1188.0" y1="1167.5" x2="1214.5" y2="1167.5" stroke="#111" stroke-width="2.6"/>
<line x1="1188.0" y1="1032.4" x2="1214.5" y2="1032.4" stroke="#111" stroke-width="2.6"/>
<line x1="1233.2" y1="1830.8" x2="1233.2" y2="1842.8" stroke="#2a2a2a" stroke-width="2.8"/>
<line x1="1251.8" y1="1830.8" x2="1251.8" y2="1842.8" stroke="#2a2a2a" stroke-width="2.8"/>
<line x1="1264.9" y1="1830.8" x2="1264.9" y2="1842.8" stroke="#2a2a2a" stroke-width="2.8"/>
<line x1="1275.2" y1="1830.8" x2="1275.2" y2="1842.8" stroke="#2a2a2a" stroke-width="2.8"/>
<line x1="1283.5" y1="1830.8" x2="1283.5" y2="1842.8" stroke="#2a2a2a" stroke-width="2.8"/>
<line x1="1290.6" y1="1830.8" x2="1290.6" y2="1842.8" stroke="#2a2a2a" stroke-width="2.8"/>
<line x1="1296.7" y1="1830.8" x2="1296.7" y2="1842.8" stroke="#2a2a2a" stroke-width="2.8"/>
<line x1="1302.1" y1="1830.8" x2="1302.1" y2="1842.8" stroke="#2a2a2a" stroke-width="2.8"/>
<line x1="1306.9" y1="1830.8" x2="1306.9" y2="1854.8" stroke="#111" stroke-width="2.8000000000000003"/>
<line x1="1338.6" y1="1830.8" x2="1338.6" y2="1842.8" stroke="#2a2a2a" stroke-width="2.8"/>
<line x1="1357.2" y1="1830.8" x2="1357.2" y2="1842.8" stroke="#2a2a2a" stroke-width="2.8"/>
<line x1="1370.3" y1="1830.8" x2="1370.3" y2="1842.8" stroke="#2a2a2a" stroke-width="2.8"/>
<line x1="1380.5" y1="1830.8" x2="1380.5" y2="1842.8" stroke="#2a2a2a" stroke-width="2.8"/>
<line x1="1388.9" y1="1830.8" x2="1388.9" y2="1842.8" stroke="#2a2a2a" stroke-width="2.8"/>
<line x1="1395.9" y1="1830.8" x2="1395.9" y2="1842.8" stroke="#2a2a2a" stroke-width="2.8"/>
<line x1="1402.1" y1="1830.8" x2="1402.1" y2="1842.8" stroke="#2a2a2a" stroke-width="2.8"/>
<line x1="1407.4" y1="1830.8" x2="1407.4" y2="1842.8" stroke="#2a2a2a" stroke-width="2.8"/>
<line x1="1412.3" y1="1830.8" x2="1412.3" y2="1854.8" stroke="#111" stroke-width="2.8000000000000003"/>
<line x1="1444.0" y1="1830.8" x2="1444.0" y2="1842.8" stroke="#2a2a2a" stroke-width="2.8"/>
<line x1="1462.6" y1="1830.8" x2="1462.6" y2="1842.8" stroke="#2a2a2a" stroke-width="2.8"/>
<line x1="1475.7" y1="1830.8" x2="1475.7" y2="1842.8" stroke="#2a2a2a" stroke-width="2.8"/>
<line x1="1485.9" y1="1830.8" x2="1485.9" y2="1842.8" stroke="#2a2a2a" stroke-width="2.8"/>
<line x1="1494.3" y1="1830.8" x2="1494.3" y2="1842.8" stroke="#2a2a2a" stroke-width="2.8"/>
<line x1="1501.3" y1="1830.8" x2="1501.3" y2="1842.8" stroke="#2a2a2a" stroke-width="2.8"/>
<line x1="1507.4" y1="1830.8" x2="1507.4" y2="1842.8" stroke="#2a2a2a" stroke-width="2.8"/>
<line x1="1512.8" y1="1830.8" x2="1512.8" y2="1842.8" stroke="#2a2a2a" stroke-width="2.8"/>
<line x1="1517.7" y1="1830.8" x2="1517.7" y2="1854.8" stroke="#111" stroke-width="2.8000000000000003"/>
<line x1="1549.4" y1="1830.8" x2="1549.4" y2="1842.8" stroke="#2a2a2a" stroke-width="2.8"/>
<line x1="1567.9" y1="1830.8" x2="1567.9" y2="1842.8" stroke="#2a2a2a" stroke-width="2.8"/>
<line x1="1581.1" y1="1830.8" x2="1581.1" y2="1842.8" stroke="#2a2a2a" stroke-width="2.8"/>
<line x1="1591.3" y1="1830.8" x2="1591.3" y2="1842.8" stroke="#2a2a2a" stroke-width="2.8"/>
<line x1="1599.7" y1="1830.8" x2="1599.7" y2="1842.8" stroke="#2a2a2a" stroke-width="2.8"/>
<line x1="1606.7" y1="1830.8" x2="1606.7" y2="1842.8" stroke="#2a2a2a" stroke-width="2.8"/>
<line x1="1612.8" y1="1830.8" x2="1612.8" y2="1842.8" stroke="#2a2a2a" stroke-width="2.8"/>
<line x1="1618.2" y1="1830.8" x2="1618.2" y2="1842.8" stroke="#2a2a2a" stroke-width="2.8"/>
<line x1="1623.0" y1="1830.8" x2="1623.0" y2="1854.8" stroke="#111" stroke-width="2.8000000000000003"/>
<line x1="1654.8" y1="1830.8" x2="1654.8" y2="1842.8" stroke="#2a2a2a" stroke-width="2.8"/>
<line x1="1673.3" y1="1830.8" x2="1673.3" y2="1842.8" stroke="#2a2a2a" stroke-width="2.8"/>
<line x1="1686.5" y1="1830.8" x2="1686.5" y2="1842.8" stroke="#2a2a2a" stroke-width="2.8"/>
<line x1="1696.7" y1="1830.8" x2="1696.7" y2="1842.8" stroke="#2a2a2a" stroke-width="2.8"/>
<line x1="1705.0" y1="1830.8" x2="1705.0" y2="1842.8" stroke="#2a2a2a" stroke-width="2.8"/>
<line x1="1712.1" y1="1830.8" x2="1712.1" y2="1842.8" stroke="#2a2a2a" stroke-width="2.8"/>
<line x1="1718.2" y1="1830.8" x2="1718.2" y2="1842.8" stroke="#2a2a2a" stroke-width="2.8"/>
<line x1="1723.6" y1="1830.8" x2="1723.6" y2="1842.8" stroke="#2a2a2a" stroke-width="2.8"/>
<line x1="1728.4" y1="1830.8" x2="1728.4" y2="1854.8" stroke="#111" stroke-width="2.8000000000000003"/>
<line x1="1760.2" y1="1830.8" x2="1760.2" y2="1842.8" stroke="#2a2a2a" stroke-width="2.8"/>
<line x1="1778.7" y1="1830.8" x2="1778.7" y2="1842.8" stroke="#2a2a2a" stroke-width="2.8"/>
<line x1="1791.9" y1="1830.8" x2="1791.9" y2="1842.8" stroke="#2a2a2a" stroke-width="2.8"/>
<line x1="1802.1" y1="1830.8" x2="1802.1" y2="1842.8" stroke="#2a2a2a" stroke-width="2.8"/>
<line x1="1810.4" y1="1830.8" x2="1810.4" y2="1842.8" stroke="#2a2a2a" stroke-width="2.8"/>
<line x1="1817.5" y1="1830.8" x2="1817.5" y2="1842.8" stroke="#2a2a2a" stroke-width="2.8"/>
<line x1="1823.6" y1="1830.8" x2="1823.6" y2="1842.8" stroke="#2a2a2a" stroke-width="2.8"/>
<line x1="1829.0" y1="1830.8" x2="1829.0" y2="1842.8" stroke="#2a2a2a" stroke-width="2.8"/>
<line x1="1833.8" y1="1830.8" x2="1833.8" y2="1854.8" stroke="#111" stroke-width="2.8000000000000003"/>
<line x1="1865.5" y1="1830.8" x2="1865.5" y2="1842.8" stroke="#2a2a2a" stroke-width="2.8"/>
<line x1="1884.1" y1="1830.8" x2="1884.1" y2="1842.8" stroke="#2a2a2a" stroke-width="2.8"/>
<line x1="1897.3" y1="1830.8" x2="1897.3" y2="1842.8" stroke="#2a2a2a" stroke-width="2.8"/>
<line x1="1907.5" y1="1830.8" x2="1907.5" y2="1842.8" stroke="#2a2a2a" stroke-width="2.8"/>
<line x1="1915.8" y1="1830.8" x2="1915.8" y2="1842.8" stroke="#2a2a2a" stroke-width="2.8"/>
<line x1="1922.9" y1="1830.8" x2="1922.9" y2="1842.8" stroke="#2a2a2a" stroke-width="2.8"/>
<line x1="1929.0" y1="1830.8" x2="1929.0" y2="1842.8" stroke="#2a2a2a" stroke-width="2.8"/>
<line x1="1934.4" y1="1830.8" x2="1934.4" y2="1842.8" stroke="#2a2a2a" stroke-width="2.8"/>
<line x1="1939.2" y1="1830.8" x2="1939.2" y2="1854.8" stroke="#111" stroke-width="2.8000000000000003"/>
<line x1="1306.9" y1="1117.2" x2="1306.9" y2="1213.7" stroke="#111" stroke-width="4.0"/>
<line x1="1296.9" y1="1117.2" x2="1316.9" y2="1117.2" stroke="#111" stroke-width="4.4"/>
<line x1="1296.9" y1="1213.7" x2="1316.9" y2="1213.7" stroke="#111" stroke-width="4.4"/>
<line x1="1412.3" y1="1414.4" x2="1412.3" y2="1526.5" stroke="#111" stroke-width="4.0"/>
<line x1="1402.3" y1="1414.4" x2="1422.3" y2="1414.4" stroke="#111" stroke-width="4.4"/>
<line x1="1402.3" y1="1526.5" x2="1422.3" y2="1526.5" stroke="#111" stroke-width="4.4"/>
<polyline points="1306.9,1165.4 1412.3,1470.5 1517.7,1622.2 1623.0,1826.9" fill="none" stroke="#111" stroke-width="4.8" stroke-linejoin="round"/>
<rect x="1292.9" y="1151.4" width="28" height="28" fill="#fff" stroke="#111" stroke-width="4.5"/>
<rect x="1398.3" y="1456.5" width="28" height="28" fill="#fff" stroke="#111" stroke-width="4.5"/>
<rect x="1503.7" y="1608.2" width="28" height="28" fill="#fff" stroke="#111" stroke-width="4.5"/>
<rect x="1609.0" y="1812.9" width="28" height="28" fill="#fff" stroke="#111" stroke-width="4.5"/>
<line x1="1623.0" y1="1436.0" x2="1623.0" y2="1521.1" stroke="#444" stroke-width="3.0"/>
<line x1="1613.0" y1="1436.0" x2="1633.0" y2="1436.0" stroke="#444" stroke-width="3.4"/>
<line x1="1613.0" y1="1521.1" x2="1633.0" y2="1521.1" stroke="#444" stroke-width="3.4"/>
<polyline points="1517.7,1146.5 1623.0,1478.6 1728.4,1637.5 1833.8,1818.1" fill="none" stroke="#111" stroke-width="4.8" stroke-linejoin="round"/>
<circle cx="1517.7" cy="1146.5" r="13.8" fill="#fff" stroke="#111" stroke-width="4.5"/>
<circle cx="1623.0" cy="1478.6" r="13.8" fill="#fff" stroke="#111" stroke-width="4.5"/>
<circle cx="1728.4" cy="1637.5" r="13.8" fill="#fff" stroke="#111" stroke-width="4.5"/>
<circle cx="1833.8" cy="1818.1" r="13.8" fill="#fff" stroke="#111" stroke-width="4.5"/>
<text transform="translate(226.6,890.4) scale(0.9869,1)" font-size="48.97" fill="#222">0</text>
<text transform="translate(201.8,755.9) scale(1.0350,1)" font-size="48.97" fill="#222">20</text>
<text transform="translate(203.3,620.3) scale(1.0054,1)" font-size="48.97" fill="#222">40</text>
<text transform="translate(201.8,483.8) scale(1.0350,1)" font-size="48.97" fill="#222">60</text>
<text transform="translate(202.2,347.5) scale(1.0487,1)" font-size="48.97" fill="#222">80</text>
<text transform="translate(178.5,213.9) scale(1.0063,1)" font-size="48.97" fill="#222" clip-path="url(#c0)">100</text>
<text transform="translate(177.9,77.7) scale(1.0330,1)" font-size="48.97" fill="#222" clip-path="url(#c1)">120</text>
<text transform="translate(301.1,941.5) scale(1.0150,1)" font-size="49.44" fill="#222" clip-path="url(#c2)">0.001</text>
<text transform="translate(453.6,941.5) scale(1.0282,1)" font-size="49.44" fill="#222" clip-path="url(#c3)">0.01</text>
<text transform="translate(571.4,941.5) scale(1.0024,1)" font-size="49.44" fill="#222" clip-path="url(#c4)">0.1</text>
<text transform="translate(693.2,942.0)" font-size="50.87" fill="#222" clip-path="url(#c5)">1</text>
<text transform="translate(785.7,941.5) scale(1.0260,1)" font-size="49.44" fill="#222" clip-path="url(#c6)">10</text>
<text transform="translate(879.5,941.5) scale(1.0207,1)" font-size="49.44" fill="#222" clip-path="url(#c7)">100</text>
<text transform="translate(303.1,835.0)" font-size="102.86" fill="#111" letter-spacing="-0.14">24</text>
<text transform="translate(418.6,836.0)" font-size="100.00" fill="#111">h</text>
<text transform="translate(1140.4,876.0) scale(0.9833,1)" font-size="52.76" fill="#222">0</text>
<text transform="translate(1117.2,741.8) scale(0.9923,1)" font-size="52.76" fill="#222">20</text>
<text transform="translate(1118.8,607.1) scale(0.9423,1)" font-size="52.76" fill="#222">40</text>
<text transform="translate(1117.1,472.9) scale(1.0128,1)" font-size="52.76" fill="#222">60</text>
<text transform="translate(1117.7,339.5) scale(1.0030,1)" font-size="52.76" fill="#222">80</text>
<text transform="translate(1097.5,206.3) scale(0.9477,1)" font-size="52.76" fill="#222" clip-path="url(#c8)">100</text>
<text transform="translate(1097.5,72.3) scale(0.9477,1)" font-size="52.76" fill="#222" clip-path="url(#c9)">120</text>
<text transform="translate(1202.6,925.6) scale(0.9765,1)" font-size="56.62" fill="#222" clip-path="url(#c10)">0.001</text>
<text transform="translate(1369.7,925.6) scale(0.9594,1)" font-size="56.62" fill="#222" clip-path="url(#c11)">0.01</text>
<text transform="translate(1484.8,925.6) scale(1.0050,1)" font-size="56.62" fill="#222" clip-path="url(#c12)">0.1</text>
<text transform="translate(1607.6,926.2)" font-size="58.26" fill="#222" clip-path="url(#c13)">1</text>
<text transform="translate(1699.5,925.6) scale(0.9832,1)" font-size="56.62" fill="#222" clip-path="url(#c14)">10</text>
<text transform="translate(1794.5,925.6) scale(0.9523,1)" font-size="56.62" fill="#222" clip-path="url(#c15)">100</text>
<text transform="translate(1217.3,834.0)" font-size="101.41" fill="#111" letter-spacing="1.42">48</text>
<text transform="translate(1329.7,836.0)" font-size="100.00" fill="#111">h</text>
<text transform="translate(219.2,1864.0) scale(0.9663,1)" font-size="49.15" fill="#222">0</text>
<text transform="translate(195.0,1728.9) scale(1.0192,1)" font-size="49.15" fill="#222">20</text>
<text transform="translate(196.5,1594.9) scale(0.9901,1)" font-size="49.15" fill="#222">40</text>
<text transform="translate(195.0,1460.0) scale(1.0192,1)" font-size="49.15" fill="#222">60</text>
<text transform="translate(196.8,1322.9) scale(0.9856,1)" font-size="49.15" fill="#222">80</text>
<text transform="translate(172.8,1190.2) scale(1.0172,1)" font-size="49.15" fill="#222" clip-path="url(#c16)">100</text>
<text transform="translate(172.8,1054.6) scale(1.0172,1)" font-size="49.15" fill="#222" clip-path="url(#c17)">120</text>
<text transform="translate(306.8,1915.4) scale(0.9965,1)" font-size="50.85" fill="#222" clip-path="url(#c18)">0.001</text>
<text transform="translate(448.8,1915.4)" font-size="50.85" fill="#222" clip-path="url(#c19)">0.01</text>
<text transform="translate(566.6,1915.4) scale(1.0077,1)" font-size="50.85" fill="#222" clip-path="url(#c20)">0.1</text>
<text transform="translate(688.7,1915.9)" font-size="52.32" fill="#222" clip-path="url(#c21)">1</text>
<text transform="translate(783.1,1915.4)" font-size="50.85" fill="#222" clip-path="url(#c22)">10</text>
<text transform="translate(875.8,1915.4) scale(1.0052,1)" font-size="50.85" fill="#222" clip-path="url(#c23)">100</text>
<text transform="translate(308.4,1808.6)" font-size="104.00" fill="#111" letter-spacing="-2.04">72</text>
<text transform="translate(423.0,1809.6)" font-size="100.69" fill="#111">h</text>
<text transform="translate(1145.7,1855.4) scale(0.9847,1)" font-size="49.30" fill="#222">0</text>
<text transform="translate(1122.1,1720.9) scale(0.9904,1)" font-size="49.30" fill="#222">20</text>
<text transform="translate(1123.6,1585.3) scale(0.9621,1)" font-size="49.30" fill="#222">40</text>
<text transform="translate(1122.1,1451.5) scale(0.9904,1)" font-size="49.30" fill="#222">60</text>
<text transform="translate(1122.6,1314.7) scale(0.9808,1)" font-size="49.30" fill="#222">80</text>
<text transform="translate(1097.6,1179.9) scale(0.9984,1)" font-size="49.30" fill="#222" clip-path="url(#c24)">100</text>
<text transform="translate(1097.5,1045.8) scale(1.0143,1)" font-size="49.30" fill="#222" clip-path="url(#c25)">120</text>
<text transform="translate(1231.8,1907.1) scale(1.0077,1)" font-size="50.28" fill="#222" clip-path="url(#c26)">0.001</text>
<text transform="translate(1373.8,1907.1) scale(0.9767,1)" font-size="50.28" fill="#222" clip-path="url(#c27)">0.01</text>
<text transform="translate(1489.6,1907.1) scale(1.0349,1)" font-size="50.28" fill="#222" clip-path="url(#c28)">0.1</text>
<text transform="translate(1613.3,1907.6)" font-size="51.74" fill="#222" clip-path="url(#c29)">1</text>
<text transform="translate(1704.3,1907.1) scale(1.0682,1)" font-size="50.28" fill="#222" clip-path="url(#c30)">10</text>
<text transform="translate(1800.3,1907.1) scale(1.0035,1)" font-size="50.28" fill="#222" clip-path="url(#c31)">100</text>
<text transform="translate(1225.2,1808.6)" font-size="101.27" fill="#111" letter-spacing="0.91">96</text>
<text transform="translate(1338.9,1810.6)" font-size="99.86" fill="#111">h</text>
<text transform="translate(689.2,2069.0)" font-size="87.34" fill="#111" letter-spacing="0.62">Concentration (nM)</text>
<text transform="translate(116.7,1295.6) rotate(-90)" font-size="87.77" fill="#111" letter-spacing="0.31">Cell viability (% ctrl)</text></svg>
</body></html>
